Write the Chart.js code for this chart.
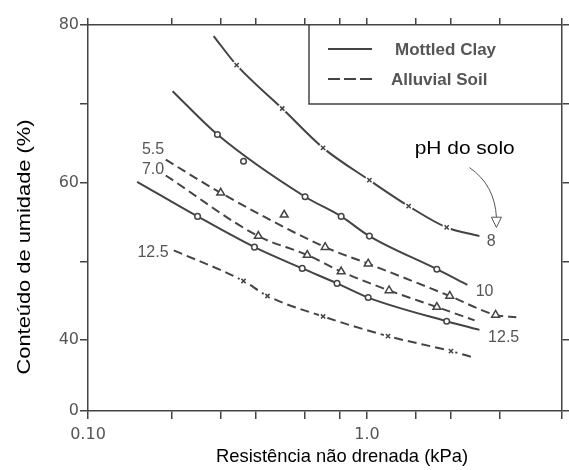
<!DOCTYPE html>
<html>
<head>
<meta charset="utf-8">
<script src="https://cdn.jsdelivr.net/npm/chart.js@4.4.1/dist/chart.umd.min.js"></script>
<style>
  html, body { margin: 0; padding: 0; background: #fff; }
  #wrap { width: 569px; height: 470px; }
</style>
</head>
<body>
<div id="wrap"><canvas id="chart" width="569" height="470"></canvas></div>
<script>
// tick values / labels
var xTicks = [0.1, 0.2, 0.3, 0.4, 0.6, 0.8, 1.0, 1.5, 2, 3, 5];
var xTickLabels = ["0.10", "", "", "", "", "", "1.0", "", "", "", ""];
var yTicks = [31, 40, 50, 60, 70, 80];
var yTickLabels = ["0", "40", "", "60", "", "80"];

// curves [resistance kPa, moisture %]
var clay8Curve = [[0.282, 78.6], [0.341, 74.9], [0.497, 69.4], [0.696, 64.4], [1.02, 60.3], [1.41, 57.0], [1.93, 54.3], [2.53, 53.2]];
var clay8Points = [[0.341, 74.9], [0.497, 69.4], [0.696, 64.4], [1.02, 60.3], [1.41, 57.0], [1.93, 54.3]];

var clay10Curve = [[0.201, 71.6], [0.291, 66.1], [0.60, 58.2], [0.808, 55.7], [1.02, 53.2], [1.78, 49.0], [2.29, 47.0]];
var clay10Points = [[0.291, 66.1], [0.361, 62.7], [0.60, 58.2], [0.808, 55.7], [1.02, 53.2], [1.78, 49.0]];

var clay125Curve = [[0.150, 60.1], [0.247, 55.7], [0.395, 51.8], [0.586, 49.1], [0.781, 47.2], [1.01, 45.4], [1.93, 42.4], [2.53, 41.3]];
var clay125Points = [[0.247, 55.7], [0.395, 51.8], [0.586, 49.1], [0.781, 47.2], [1.01, 45.4], [1.93, 42.4]];

var soil55Curve = [[0.190, 62.9], [0.299, 58.7], [0.708, 51.8], [1.01, 49.7], [1.98, 45.6], [2.89, 43.2], [3.43, 42.9]];
var soil55Points = [[0.299, 58.7], [0.505, 55.9], [0.708, 51.8], [1.01, 49.7], [1.98, 45.6], [2.89, 43.2]];

var soil70Curve = [[0.190, 60.9], [0.408, 53.2], [0.611, 50.8], [0.808, 48.7], [1.20, 46.3], [1.78, 44.2], [2.43, 42.5]];
var soil70Points = [[0.408, 53.2], [0.611, 50.8], [0.808, 48.7], [1.20, 46.3], [1.78, 44.2]];

var soil125Curve = [[0.203, 51.4], [0.361, 47.5], [0.44, 45.6], [0.696, 43.0], [1.19, 40.5], [2.0, 38.6], [2.41, 37.8]];
var soil125Points = [[0.361, 47.5], [0.44, 45.6], [0.696, 43.0], [1.19, 40.5], [2.0, 38.6]];

// pH labels beside the curves [text, x, y]
var curveLabels = [["8", 2.79, 52.5], ["10", 2.64, 46.1], ["12.5", 3.09, 40.3], ["5.5", 0.171, 64.2], ["7.0", 0.171, 61.6], ["12.5", 0.171, 51.1]];
var legendNames = ["Mottled Clay", "Alluvial Soil"];
var phNote = "pH do solo";
var phNoteAt = [2.24, 64.2];
var phArrow = [[2.33, 61.9], [2.87, 59.7], [2.91, 55.6]];
var phArrowTip = [2.91, 54.3];

var ink = "#444";
var dash = [9, 5];

function pts(arr) {
    return arr.map(p => ({ x: p[0], y: p[1] }));
}

function curve(arr, dashed) {
    return {
        data: pts(arr), showLine: true, pointRadius: 0, borderColor: ink, borderWidth: 2,
        borderDash: dashed ? dash : [], cubicInterpolationMode: "monotone", order: 3
    };
}

function gap(arr, r) {
    return { data: pts(arr), showLine: false, pointStyle: "circle", pointRadius: r, pointBorderWidth: 0,
        pointBackgroundColor: "#fff", pointBorderColor: "#fff", order: 2 };
}

function marks(arr, style, r) {
    return { data: pts(arr), showLine: false, pointStyle: style, pointRadius: r, pointBorderWidth: 1.5,
        pointBorderColor: ink, pointBackgroundColor: "#fff", order: 1 };
}

var datasets = [
    curve(clay8Curve, false), gap(clay8Points, 4.5), marks(clay8Points, "crossRot", 3),
    curve(clay10Curve, false), marks(clay10Points, "circle", 2.8),
    curve(clay125Curve, false), marks(clay125Points, "circle", 2.8),
    curve(soil55Curve, true), marks(soil55Points, "triangle", 4.5),
    curve(soil70Curve, true), marks(soil70Points, "triangle", 4.5),
    curve(soil125Curve, true), gap(soil125Points, 4.5), marks(soil125Points, "crossRot", 3)
];

function stretchText(ctx, txt, x, y, width, rot) {
    ctx.save();
    ctx.translate(x, y);
    if (rot) ctx.rotate(rot);
    var w = ctx.measureText(txt).width;
    ctx.scale(width / w, 1);
    ctx.textAlign = "center";
    ctx.textBaseline = "middle";
    ctx.fillText(txt, 0, 0);
    ctx.restore();
}

var extras = {
    id: "extras",
    afterDraw: function (chart) {
        var ctx = chart.ctx, ca = chart.chartArea;
        var xs = chart.scales.x, ys = chart.scales.y;
        ctx.save();

        // legend box
        ctx.strokeStyle = ink;
        ctx.lineWidth = 1.5;
        ctx.beginPath();
        ctx.moveTo(309, ca.top);
        ctx.lineTo(309, 104);
        ctx.lineTo(ca.right, 104);
        ctx.stroke();
        ctx.font = "bold 17px 'Liberation Sans'";
        ctx.fillStyle = "#555";
        ctx.textBaseline = "middle";
        legendNames.forEach(function (name, i) {
            var y = 49 + i * 30;
            ctx.setLineDash(i === 0 ? [] : [12, 4]);
            ctx.lineWidth = 2.2;
            ctx.beginPath();
            ctx.moveTo(328, y);
            ctx.lineTo(372, y);
            ctx.stroke();
            ctx.setLineDash([]);
            ctx.fillText(name, i === 0 ? 395 : 391, y + 1);
        });

        // pH labels
        ctx.font = "16px 'Liberation Sans'";
        ctx.textAlign = "center";
        curveLabels.forEach(function (l) {
            ctx.fillText(l[0], xs.getPixelForValue(l[1]), ys.getPixelForValue(l[2]));
        });

        // note + arrow
        ctx.fillStyle = "#000";
        ctx.font = "18px 'Liberation Sans'";
        stretchText(ctx, phNote, xs.getPixelForValue(phNoteAt[0]), ys.getPixelForValue(phNoteAt[1]), 100, 0);
        var p = phArrow.map(a => [xs.getPixelForValue(a[0]), ys.getPixelForValue(a[1])]);
        var tip = [xs.getPixelForValue(phArrowTip[0]), ys.getPixelForValue(phArrowTip[1])];
        ctx.strokeStyle = "#555";
        ctx.lineWidth = 1;
        ctx.beginPath();
        ctx.moveTo(p[0][0], p[0][1]);
        ctx.quadraticCurveTo(p[1][0], p[1][1], p[2][0], p[2][1]);
        ctx.stroke();
        ctx.beginPath();
        ctx.moveTo(tip[0] - 5, p[2][1]);
        ctx.lineTo(tip[0] + 5, p[2][1]);
        ctx.lineTo(tip[0], tip[1]);
        ctx.closePath();
        ctx.stroke();

        // axis titles
        ctx.fillStyle = "#000";
        ctx.font = "19px 'Liberation Sans'";
        stretchText(ctx, "Resistência não drenada (kPa)", 342, 457, 252, 0);
        stretchText(ctx, "Conteúdo de umidade (%)", 25, 247, 255, -Math.PI / 2);
        ctx.restore();
    }
};

var tickFont = { family: "DejaVu Sans", size: 16 };
var gridOpts = { drawOnChartArea: false, tickLength: 8, color: ink, lineWidth: 1.5 };
var borderOpts = { color: ink, width: 1.5 };

var chart = new Chart(document.getElementById("chart"), {
    type: "scatter",
    data: { datasets: datasets },
    options: {
        responsive: false,
        animation: false,
        devicePixelRatio: 1,
        events: [],
        layout: { padding: 0 },
        plugins: { legend: { display: false }, tooltip: { enabled: false } },
        scales: {
            x: {
                type: "logarithmic", position: "bottom", min: 0.1, max: 5,
                afterBuildTicks: s => { s.ticks = xTicks.map(v => ({ value: v })); },
                afterFit: s => { s.height = 59; },
                ticks: { autoSkip: false, maxRotation: 0, padding: 6, color: "#555", font: tickFont,
                    callback: (v, i) => xTickLabels[i] },
                grid: gridOpts, border: borderOpts
            },
            x2: {
                type: "logarithmic", position: "top", min: 0.1, max: 5,
                afterBuildTicks: s => { s.ticks = xTicks.map(v => ({ value: v })); },
                afterFit: s => { s.height = 25; },
                ticks: { display: false },
                grid: { drawOnChartArea: false, tickLength: 7, color: ink, lineWidth: 1.5 }, border: borderOpts
            },
            y: {
                type: "linear", position: "left", min: 31, max: 80,
                afterBuildTicks: s => { s.ticks = yTicks.map(v => ({ value: v })); },
                afterFit: s => { s.width = 88; },
                ticks: { autoSkip: false, padding: 1, color: "#555", font: tickFont,
                    callback: (v, i) => yTickLabels[i] },
                grid: gridOpts, border: borderOpts
            },
            y2: {
                type: "linear", position: "right", min: 31, max: 80,
                afterBuildTicks: s => { s.ticks = yTicks.map(v => ({ value: v })); },
                afterFit: s => { s.width = 7; },
                ticks: { display: false },
                grid: { drawOnChartArea: false, tickLength: 7, color: ink, lineWidth: 1.5 }, border: borderOpts
            }
        }
    },
    plugins: [extras]
});
</script>
</body>
</html>
